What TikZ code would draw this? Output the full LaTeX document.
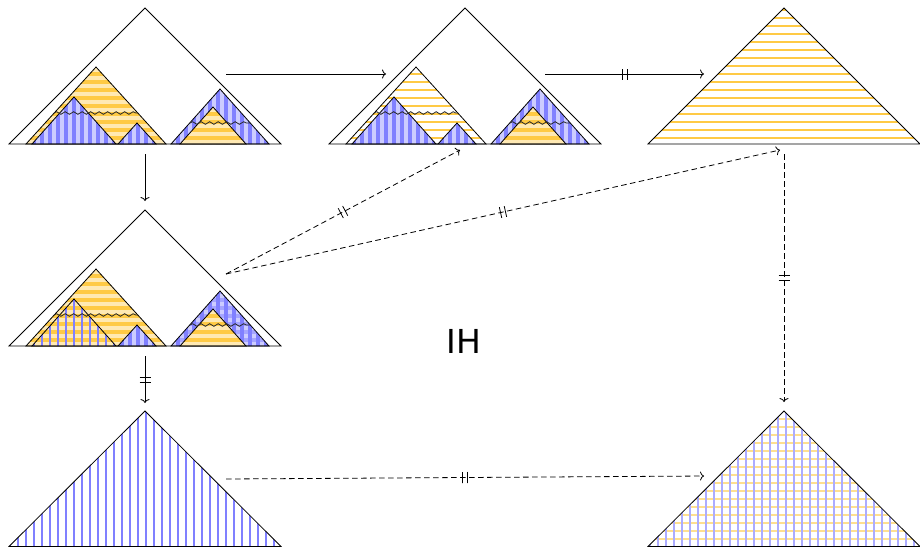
\documentclass[tikz,border=0pt]{standalone}
\usepackage{fontspec}
\newfontfamily\ihfont{DejaVu Sans}
\usetikzlibrary{decorations.pathmorphing,decorations.markings,arrows.meta}
\definecolor{ydark}{HTML}{FFCA45}
\definecolor{ylight}{HTML}{FFE9B3}
\definecolor{bdark}{HTML}{8080FF}
\definecolor{blight}{HTML}{CCCCFF}

% pattern fills (drawn inside a clip)
\newcommand\PYY{\fill[ylight] (0,0) rectangle (930,560);
  \foreach \i in {0,...,70} \fill[ydark] (0,8*\i) rectangle (930,8*\i+4);}
\newcommand\PBB{\fill[blight] (0,0) rectangle (930,560);
  \foreach \i in {0,...,116} \fill[bdark] (8*\i,0) rectangle (8*\i+4,560);}
\newcommand\PYW{\foreach \i in {0,...,70} \fill[ydark] (0,8*\i+1) rectangle (930,8*\i+3.2);}
\newcommand\PBW{\foreach \i in {0,...,116} \fill[bdark] (8*\i+1,0) rectangle (8*\i+3.2,560);}
\newcommand\PYYB{\PYY\foreach \i in {0,...,116} \fill[bdark] (8*\i+1,0) rectangle (8*\i+2.8,560);}
\newcommand\PBBB{\PBB\foreach \i in {0,...,70} \fill[bdark,opacity=0.5] (0,8*\i) rectangle (930,8*\i+4);}
\newcommand\PGRID{\foreach \i in {0,...,70} \fill[ydark!60] (0,8*\i+2) rectangle (930,8*\i+3.5);
  \foreach \i in {0,...,116} \fill[bdark!65] (8*\i+1,0) rectangle (8*\i+2.5,560);}

\tikzset{
  triedge/.style={line width=0.8pt, line join=miter},
  wavy/.style={decorate, decoration={snake, amplitude=1.3pt, segment length=8.5pt}, line width=0.8pt, black!85},
  conn/.style={-{To[length=4pt,width=9pt]}, line width=0.8pt},
  dconn/.style={conn, dash pattern=on 5.5pt off 3.5pt},
  brk/.style={postaction={decorate}, decoration={markings, mark=at position 0.5 with {\draw[-, solid, line width=0.8pt] (-2.5pt,-5.5pt) -- (-2.5pt,5.5pt) (2.5pt,-5.5pt) -- (2.5pt,5.5pt);}}}
}

% #1 pattern, #2 apex x, #3 apex y, #4 base y, #5 half width
\newcommand\Tri[5]{%
  \begin{scope}\clip (#2-#5,#4) -- (#2,#3) -- (#2+#5,#4) -- cycle; #1\end{scope}
  \draw[triedge] (#2-#5,#4) -- (#2,#3) -- (#2+#5,#4) -- cycle;}

% #1 shift, #2..#6 patterns for Y1, B1, B2, B3, Y2
\newcommand\Group[6]{%
  \begin{scope}[shift={#1}]
  \Tri{#2}{96}{67}{144}{70}
  \Tri{#3}{74}{97}{144}{42}
  \Tri{#4}{137}{123}{144}{19}
  \draw[wavy] (54,113) -- (138,113);
  \Tri{#5}{220}{89}{144}{49}
  \Tri{#6}{213}{107}{144}{33}
  \draw[wavy] (190,123) -- (250,123);
  \draw[triedge] (9,144) -- (145,8) -- (281,144) -- cycle;
  \end{scope}}

\begin{document}
\begin{tikzpicture}[x=1pt,y=-1pt]
\useasboundingbox (0,0) rectangle (920,547);

\Group{(0,0)}{\PYY}{\PBB}{\PBB}{\PBB}{\PYY}
\Group{(320,0)}{\PYW}{\PBB}{\PBB}{\PBB}{\PYY}
\Group{(0,202)}{\PYY}{\PYYB}{\PBB}{\PBBB}{\PYY}
\Tri{\PYW}{784}{8}{144}{136}
\Tri{\PBW}{145}{411}{546.5}{136}
\Tri{\PGRID}{784}{411}{546.5}{136}

\node[font=\ihfont\fontsize{33}{33}\selectfont] (ih) at (464,341) {IH};

\coordinate (Ae) at (226,74);
\coordinate (Bw) at (386,74);
\coordinate (Be) at (545,74);
\coordinate (Cw) at (704,74);
\coordinate (As) at (145,154);
\coordinate (Dn) at (145,201);
\coordinate (Ds) at (145,356);
\coordinate (En) at (145,403);
\coordinate (De) at (226,274);
\coordinate (Bs) at (460,150);
\coordinate (Csw) at (780,150);
\coordinate (Cs) at (784,154);
\coordinate (Fn) at (784,402);
\coordinate (Ee) at (226,479);
\coordinate (Fw) at (704,476);

\draw[conn] (Ae) -- (Bw);
\draw[conn,brk] (Be) -- (Cw);
\draw[conn] (As) -- (Dn);
\draw[conn,brk] (Ds) -- (En);
\draw[dconn,brk] (De) -- (Bs);
\draw[dconn,brk] (De) -- (Csw);
\draw[dconn,brk] (Cs) -- (Fn);
\draw[dconn,brk] (Ee) -- (Fw);
\end{tikzpicture}
\end{document}
